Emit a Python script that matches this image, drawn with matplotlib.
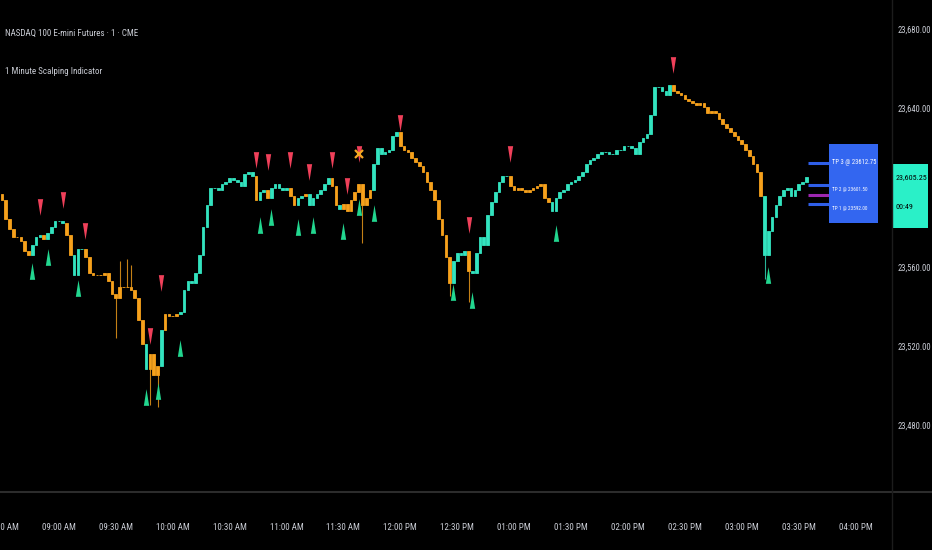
import matplotlib.pyplot as plt
from matplotlib.lines import Line2D
from matplotlib.transforms import blended_transform_factory

# 2-minute closes, session starts 08:30
closes = [
    23594, 23584, 23579, 23575, 23575, 23573, 23568, 23566, 23571, 23575,
    23576, 23574, 23577, 23580, 23583, 23583, 23582, 23576, 23566, 23556,
    23569, 23569, 23565, 23557, 23556, 23556, 23556, 23557, 23553, 23546,
    23544, 23550, 23550, 23550, 23548, 23544, 23533, 23521, 23508, 23516,
    23505, 23510, 23528, 23536, 23535, 23535, 23536, 23537, 23548, 23553,
    23552, 23557, 23566, 23580, 23591, 23600, 23600, 23599, 23602, 23603,
    23605, 23604, 23603, 23601, 23607, 23608, 23606, 23594, 23598, 23599,
    23595, 23600, 23602, 23600, 23599, 23600, 23596, 23591, 23595, 23596,
    23597, 23591, 23595, 23597, 23599, 23602, 23605, 23601, 23591, 23589,
    23592, 23588, 23594, 23598, 23602, 23591, 23595, 23599, 23612, 23620,
    23617, 23618, 23619, 23626, 23628, 23621, 23619, 23618, 23615, 23613,
    23611, 23608, 23603, 23599, 23594, 23584, 23576, 23565, 23552, 23563,
    23567, 23566, 23568, 23558, 23557, 23567, 23575, 23571, 23586, 23593,
    23598, 23603, 23606, 23606, 23601, 23599, 23600, 23599, 23598, 23599,
    23600, 23601, 23602, 23595, 23593, 23588, 23595, 23598, 23599, 23602,
    23603, 23604, 23606, 23608, 23612, 23614, 23615, 23617, 23618, 23618,
    23617, 23617, 23619, 23619, 23621, 23621, 23620, 23617, 23623, 23625,
    23627, 23637, 23651, 23651, 23649, 23647, 23652, 23649, 23648, 23647,
    23645, 23644, 23643, 23642, 23643, 23641, 23638, 23639, 23638, 23635,
    23632, 23630, 23628, 23626, 23624, 23622, 23619, 23616, 23612, 23608,
    23596, 23566, 23578, 23585, 23591, 23596, 23599, 23600, 23596, 23599,
    23602, 23603, 23605.25,
]
first_open = 23597

# indicator trend: bar index where each state begins
trend_start = [0, 8, 11, 12, 17, 19, 22, 38, 39, 42, 43, 47, 67, 68, 70, 71,
               76, 78, 80, 81, 87, 89, 90, 98, 105, 119, 123, 124, 134, 145,
               177, 201]
trend_dir = ['dn', 'up', 'dn', 'up', 'dn', 'up', 'dn', 'up', 'dn', 'up', 'dn',
             'up', 'dn', 'up', 'dn', 'up', 'dn', 'up', 'dn', 'up', 'dn', 'up',
             'dn', 'up', 'dn', 'up', 'dn', 'up', 'dn', 'up', 'dn', 'up']

# long wicks
spike_idx = [30, 31, 33, 34, 39, 41, 95, 118, 123, 201]
spike_px = [23524, 23563, 23564, 23561, 23490, 23489, 23572, 23545, 23542, 23554]

# signals
sell_idx = [10, 16, 22, 39, 42, 67, 70, 76, 81, 87, 91, 94, 105, 123, 134, 177]
sell_px = [23590, 23594, 23578, 23525, 23552, 23614, 23613, 23614, 23608, 23614,
           23601, 23617, 23633, 23581, 23617, 23662]
buy_idx = [8, 12, 20, 38, 41, 47, 68, 71, 78, 82, 90, 94, 98, 119, 124, 146, 202]
buy_px = [23558, 23565, 23549, 23494, 23497, 23519, 23581, 23585, 23580, 23581,
          23578, 23590, 23587, 23547, 23543, 23577, 23556]
exit_idx = [94]
exit_px = [23617]

# targets
tp_levels = [23612.75, 23601.50, 23596.25, 23592.00]
tp_colors = ['#2f5fe8', '#2f5fe8', '#9c27b0', '#2f5fe8']
tp_text = ['TP 3 @ 23612.75', 'TP 2 @ 23601.50', 'TP 1 @ 23592.00']

time_ticks = list(range(0, 451, 30))
time_labels = ['08:30 AM', '09:00 AM', '09:30 AM', '10:00 AM', '10:30 AM',
               '11:00 AM', '11:30 AM', '12:00 PM', '12:30 PM', '01:00 PM',
               '01:30 PM', '02:00 PM', '02:30 PM', '03:00 PM', '03:30 PM',
               '04:00 PM']
# 23,600 sits under the last-price label, so it is not shown
price_ticks = [23480, 23520, 23560, 23640, 23680]
countdown = '00:49'

UP = '#33e3bf'
DN = '#f6a11c'
TXT = '#c9ccd4'

plt.rcParams['font.family'] = ['Roboto Condensed', 'Liberation Sans', 'DejaVu Sans']

fig = plt.figure(figsize=(9.32, 5.5), dpi=100, facecolor='black')
ax = fig.add_axes([0, 58 / 550, 892 / 932, 492 / 550], facecolor='black')

# state per bar
state = []
k = 0
for i in range(len(closes)):
    while k + 1 < len(trend_start) and trend_start[k + 1] <= i:
        k += 1
    state.append(trend_dir[k])
colors = [UP if s == 'up' else DN for s in state]

xs = [2 * i for i in range(len(closes))]
opens = [first_open] + closes[:-1]
heights = [c - o for o, c in zip(opens, closes)]
ax.bar(xs, heights, bottom=opens, width=1.4, color=colors,
       edgecolor=colors, linewidth=0.6, zorder=3)

for i, p in zip(spike_idx, spike_px):
    edge = min(opens[i], closes[i]) if p < closes[i] else max(opens[i], closes[i])
    ax.vlines(xs[i], edge, p, color=colors[i], lw=0.8, alpha=0.8, zorder=2)

down_tri = [(-0.32, 1), (0.32, 1), (0, -1), (-0.32, 1)]
up_tri = [(-0.32, -1), (0.32, -1), (0, 1), (-0.32, -1)]
ax.plot([xs[i] for i in sell_idx], sell_px, ls='none', marker=down_tri,
        ms=12, color='#f0405a', mew=0, zorder=5)
ax.plot([xs[i] for i in buy_idx], buy_px, ls='none', marker=up_tri,
        ms=12, color='#22d68f', mew=0, zorder=5)
ax.plot([xs[i] for i in exit_idx], exit_px, ls='none', marker='x',
        ms=6, mew=1.6, color='#f5a623', zorder=6)

# take-profit lines and label box
x_end = xs[-1]
for lvl, c in zip(tp_levels, tp_colors):
    ax.hlines(lvl, x_end + 0.8, x_end + 11.8, color=c, lw=2.2, zorder=4)
ax.text(x_end + 13.4, tp_levels[0], tp_text[0], color='white', fontsize=4.8,
        va='center', ha='left', zorder=8)
ax.text(x_end + 13.4, tp_levels[1] - 2.5, tp_text[1], color='white', fontsize=3.8,
        va='center', ha='left', zorder=8)
ax.text(x_end + 13.4, tp_levels[3] - 2.5, tp_text[2], color='white', fontsize=3.8,
        va='center', ha='left', zorder=8)
ax.add_patch(plt.Rectangle((x_end + 11.8, 23582), 26, 40, facecolor='#3366f0',
                           edgecolor='none', zorder=7))

ax.set_xlim(-1.05, 469.2)
ax.set_ylim(23446, 23695)

ax.set_xticks(time_ticks)
ax.set_xticklabels(time_labels)
ax.tick_params(axis='x', length=0, pad=22, labelsize=6.5, labelcolor=TXT)
ax.yaxis.tick_right()
ax.set_yticks(price_ticks)
ax.set_yticklabels(['{:,.2f}'.format(p) for p in price_ticks])
ax.tick_params(axis='y', length=0, pad=4, labelsize=6.2, labelcolor=TXT)
for s in ax.spines.values():
    s.set_visible(False)

# last price label on the price scale
tr = blended_transform_factory(ax.transAxes, ax.transData)
last = closes[-1]
ax.add_patch(plt.Rectangle((1.0015, last - 25.5), 0.039, 32.5, transform=tr,
                           facecolor='#2af0c8', edgecolor='none',
                           clip_on=False, zorder=9))
ax.text(1.0035, last, '{:,.2f}'.format(last), transform=tr, color='black',
        fontsize=5.8, va='center', ha='left', clip_on=False, zorder=10)
ax.text(1.0035, last - 15, countdown, transform=tr, color='black',
        fontsize=5.8, va='center', ha='left', clip_on=False, zorder=10)

# pane separators
fig.add_artist(Line2D([0, 1], [58 / 550, 58 / 550], color='#2c2c2c', lw=1.5))
fig.add_artist(Line2D([892 / 932, 892 / 932], [0, 1], color='#1c1c1c', lw=1))

fig.text(5 / 932, 1 - 33 / 550, 'NASDAQ 100 E-mini Futures · 1 · CME',
         color=TXT, fontsize=6.5, va='center')
fig.text(5 / 932, 1 - 72 / 550, '1 Minute Scalping Indicator',
         color=TXT, fontsize=6.5, va='center')

fig.savefig('out.png', dpi=100, facecolor='black')
